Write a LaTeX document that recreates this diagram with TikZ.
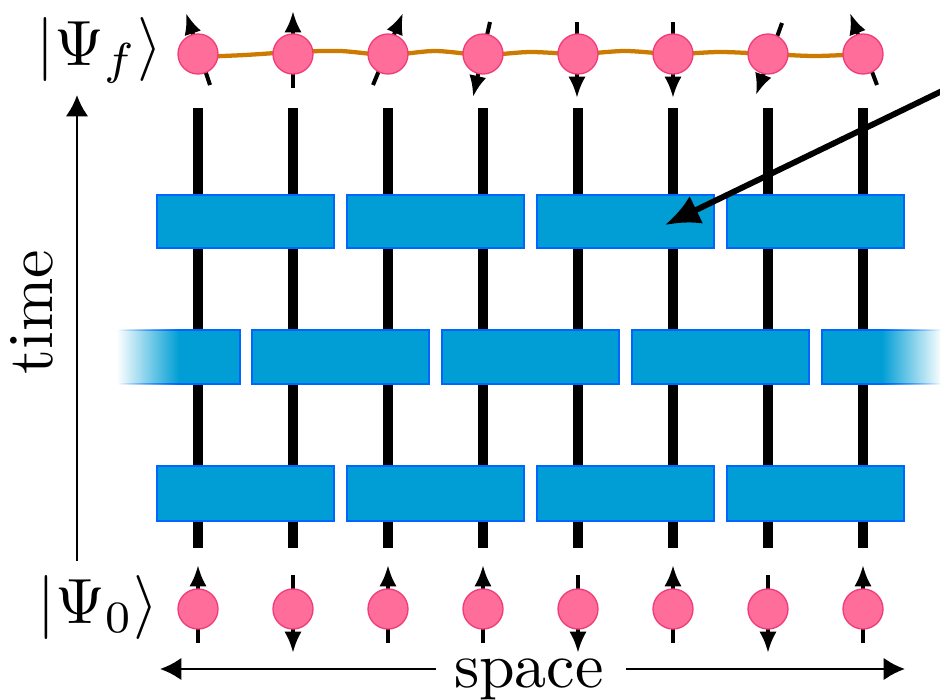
\documentclass[tikz,border=0pt]{standalone}
\usetikzlibrary{arrows.meta,fadings}
\definecolor{boxfill}{RGB}{0,158,212}
\definecolor{boxdraw}{RGB}{0,102,255}
\definecolor{spinfill}{RGB}{255,110,155}
\definecolor{spindraw}{RGB}{240,60,120}
\definecolor{wavecol}{RGB}{204,122,0}
\tikzfading[name=fadeleft, left color=transparent!100, right color=transparent!0, middle color=transparent!0]
\tikzfading[name=faderight, left color=transparent!0, right color=transparent!100, middle color=transparent!0]
\begin{document}
\begin{tikzpicture}[x=0.75pt,y=-0.75pt,
  wire/.style={line width=8.2pt, black},
  gate/.style={fill=boxfill, draw=boxdraw, line width=1.6pt},
  spin/.style={circle, minimum size=30pt, inner sep=0pt, fill=spinfill, draw=spindraw, line width=1pt},
  spinarrow/.style={line width=3pt, -{Latex[length=16pt,width=13pt]}},
  lbl/.style={inner sep=0pt, font=\normalsize, scale=4.8},
  axisarrow/.style={line width=2.2pt, -{Latex[length=16pt,width=17pt]}}]
\useasboundingbox (0,0) rectangle (940,700);
% wires
\foreach \x in {198,293,...,863} \draw[wire] (\x,108) -- (\x,548);
% gates
\foreach \a/\b in {157/334,347/524,537/714,727/904} {
  \draw[gate] (\a,195) rectangle (\b,248);
  \draw[gate] (\a,466) rectangle (\b,521);
}
\foreach \a/\b in {252/429,442/619,632/809}
  \draw[gate] (\a,330) rectangle (\b,384);
\draw[gate, path fading=fadeleft] (118,330) rectangle (240,384);
\draw[gate, path fading=faderight] (822,330) rectangle (941,384);
% wave
\draw[wavecol, line width=3.2pt] plot[smooth] coordinates {(198,57) (245,55) (293,52) (340,51) (388,55) (435,51) (483,55) (530,52) (578,54) (625,51) (673,54) (720,52) (768,54) (815,56) (863,54)};
% top spin arrows
\foreach \ax/\ay/\bx/\by in {210/85/186/13, 293/88/293/11, 373/85/403/13, 490/22/473/97, 577/22/577/98, 673/22/673/98, 782/23/756/95, 877/85/850/13}
  \draw[spinarrow] (\ax,\ay) -- (\bx,\by);
% bottom spin arrows
\foreach \x in {198,388,483,673,863} \draw[spinarrow] (\x,643) -- (\x,565);
\foreach \x in {293,578,768} \draw[spinarrow] (\x,575) -- (\x,653);
% spins
\foreach \x [count=\i] in {198,293,...,863} {
  \node[spin] (t\i) at (\x,54) {};
  \node[spin] (b\i) at (\x,609) {};
}
% pointer arrow
\coordinate (pfrom) at (942,91);
\coordinate (pto) at (665,225);
\draw[line width=4.4pt, -{Latex[length=26pt,width=23pt]}] (pfrom) -- (pto);
% labels
\node[lbl, anchor=base west] (psif) at (35,65) {$|\Psi_f\rangle$};
\node[lbl, anchor=base west] (psi0) at (36,623) {$|\Psi_0\rangle$};
\node[lbl, rotate=90, anchor=base] (timelbl) at (52,312) {time};
\node[lbl, anchor=base] (spacelbl) at (529,687) {space};
% axes
\coordinate (ta) at (77,561);
\coordinate (tb) at (77,95);
\draw[axisarrow] (ta) -- (tb);
\coordinate (sa) at (436,669);
\coordinate (sb) at (160,669);
\coordinate (sc) at (626,669);
\coordinate (sd) at (905,669);
\draw[axisarrow] (sa) -- (sb);
\draw[axisarrow] (sc) -- (sd);
\end{tikzpicture}
\end{document}
